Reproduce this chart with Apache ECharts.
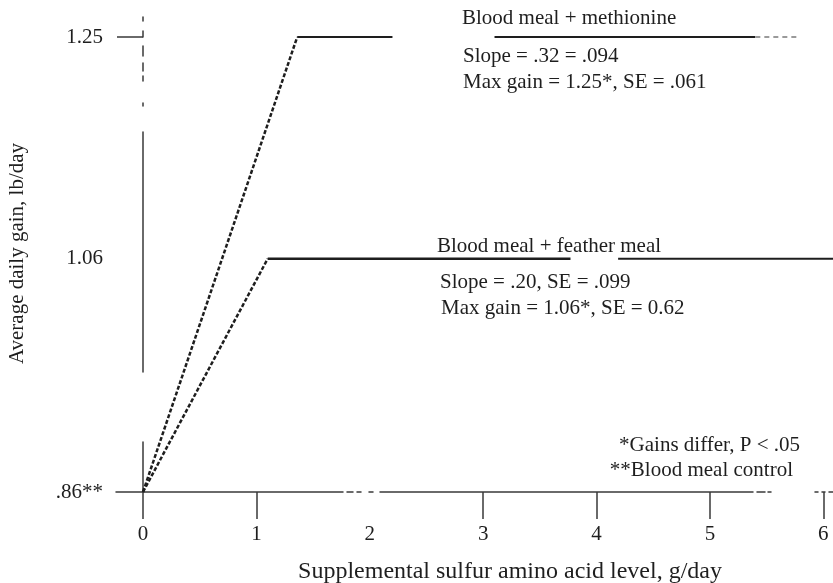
<!DOCTYPE html>
<html>
<head>
<meta charset="utf-8">
<script src="https://cdn.jsdelivr.net/npm/echarts@6/dist/echarts.min.js"></script>
<style>
html,body{margin:0;padding:0;background:#fff;}
#chart{width:833px;height:583px;}
</style>
</head>
<body>
<div id="chart"></div>
<script>
// ---- data ----
const xTickValues = [0, 1, 2, 3, 4, 5, 6];
const xTickMarks = [0, 1, 3, 4, 5, 6];
const yTickValues = [0.86, 1.06, 1.25];
const yTickLabels = ['.86**', '1.06', '1.25'];

const methionineRise = [[0, 0.86], [1.36, 1.25]];
const methioninePlateauA = [[1.36, 1.25], [2.2, 1.25]];
const methioninePlateauB = [[3.1, 1.25], [5.4, 1.25]];
const methioninePlateauTail = [[5.4, 1.25], [5.79, 1.25]];

const featherRise = [[0, 0.86], [1.1, 1.06]];
const featherPlateauA = [[1.1, 1.06], [3.77, 1.06]];
const featherPlateauB = [[4.19, 1.06], [6.085, 1.06]];

const methionineNotes = ['Blood meal + methionine', 'Slope = .32 = .094', 'Max gain = 1.25*, SE = .061'];
const featherNotes = ['Blood meal + feather meal', 'Slope = .20, SE = .099', 'Max gain = 1.06*, SE = 0.62'];
const footNotes = ['*Gains differ, P < .05', '**Blood meal control'];
const xTitle = 'Supplemental sulfur amino acid level, g/day';
const yTitle = 'Average daily gain, lb/day';

// ---- chart ----
const FONT = '"Liberation Serif", "Times New Roman", serif';
const INK = '#1e1e1e';
const chart = echarts.init(document.getElementById('chart'), null, {renderer: 'canvas'});

function seg(data, dash, w, color) {
  return {
    type: 'line', data: data, symbol: 'none', silent: true, animation: false,
    lineStyle: {color: color || INK, width: w || 2, type: dash || 'solid'}
  };
}
function txt(s, x, y, size, align) {
  return {type: 'text', x: x, y: y, silent: true,
    style: {text: s, fill: INK, font: size + 'px ' + FONT, textAlign: align || 'left', textVerticalAlign: 'middle'}};
}

const option = {
  backgroundColor: '#fff',
  animation: false,
  grid: {left: 116, right: 0, top: 15, bottom: 91, containLabel: false, outerBoundsMode: 'none'},
  xAxis: {
    type: 'value', min: -0.238, max: 6.085,
    axisLine: {show: true, onZero: false, lineStyle: {color: '#3a3a3a', width: 1.5,
      type: [227, 4, 6, 4, 4, 8, 4, 7, 373, 4, 8, 3, 3, 44, 3, 4, 3, 4, 20]}},
    axisTick: {show: true, inside: false, length: 27, customValues: xTickMarks,
      lineStyle: {color: '#3a3a3a', width: 1.5}},
    axisLabel: {customValues: xTickValues, margin: 32, color: INK, fontFamily: FONT, fontSize: 21,
      formatter: v => String(v)},
    splitLine: {show: false}
  },
  yAxis: {
    type: 'value', min: 0.86, max: 1.2689, offset: -27,
    axisLine: {show: true, onZero: false, lineStyle: {color: '#3a3a3a', width: 1.5,
      type: [50, 70, 240, 26, 3, 22, 5, 5, 8, 7, 10, 9, 6, 10, 4, 20]}},
    axisTick: {show: true, inside: false, length: 26, customValues: [1.25],
      lineStyle: {color: '#3a3a3a', width: 1.5}},
    axisLabel: {customValues: yTickValues, margin: 40, color: INK, fontFamily: FONT, fontSize: 21,
      formatter: v => {
        const i = yTickValues.findIndex(t => Math.abs(t - v) < 1e-6);
        return i >= 0 ? yTickLabels[i] : '';
      }},
    name: yTitle, nameLocation: 'middle', nameGap: 115,
    nameTextStyle: {color: INK, fontFamily: FONT, fontSize: 21},
    splitLine: {show: false}
  },
  series: [
    seg(methionineRise, [4, 2], 2.5),
    seg(methioninePlateauA, 'solid', 2),
    seg(methioninePlateauB, 'solid', 2),
    seg(methioninePlateauTail, [5, 4], 2, '#9a9a9a'),
    seg(featherRise, [4, 2], 2.5),
    seg(featherPlateauA, 'solid', 2.5),
    seg(featherPlateauB, 'solid', 2)
  ],
  graphic: [
    txt(methionineNotes[0], 462, 18, 21),
    txt(methionineNotes[1], 463, 56, 21),
    txt(methionineNotes[2], 463, 82, 21),
    txt(featherNotes[0], 437, 246, 21),
    txt(featherNotes[1], 440, 282, 21),
    txt(featherNotes[2], 441, 308, 21),
    txt(footNotes[0], 800, 445, 21, 'right'),
    txt(footNotes[1], 793, 470, 21, 'right'),
    txt(xTitle, 510, 572, 24, 'center')
  ]
};
chart.setOption(option);
</script>
</body>
</html>
